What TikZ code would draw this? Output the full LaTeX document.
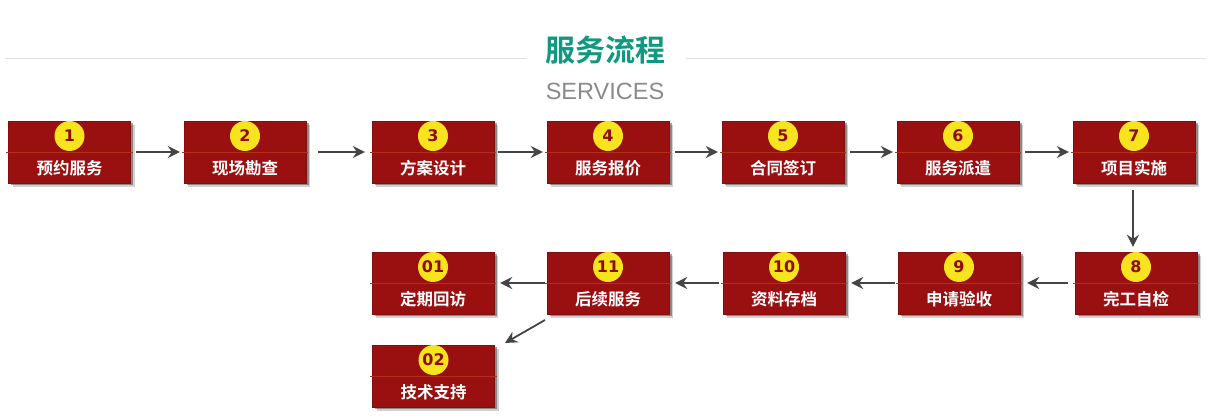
\documentclass[tikz,border=0pt]{standalone}
\usepackage{fontspec}
\setmainfont{Liberation Sans}
\newfontfamily\cjk{Noto Sans CJK SC}[BoldFont={* Bold}]
\newfontfamily\numfont{DejaVu Sans}[BoldFont={* Bold}]
\usetikzlibrary{arrows.meta,shadows}
\definecolor{boxred}{HTML}{9A1010}
\definecolor{midred}{HTML}{B0301A}
\definecolor{numyel}{HTML}{F7E41E}
\definecolor{numred}{HTML}{8E0C0C}
\definecolor{titgreen}{HTML}{109880}
\definecolor{subgray}{HTML}{8A8A8A}
\definecolor{rulegray}{HTML}{E2E2E2}
\definecolor{arrgray}{HTML}{444444}
\tikzset{
  box/.style={rectangle, minimum width=122pt, minimum height=62pt, inner sep=0pt,
    fill=boxred, draw=boxred!85!black, line width=0.4pt,
    general shadow={shadow xshift=4pt, shadow yshift=-4pt, opacity=0.18, fill=black, shadow scale=1.0},
    drop shadow={shadow xshift=2.5pt, shadow yshift=-2.5pt, opacity=0.45, fill=black!80}},
  midl/.style={draw=midred, line width=0.6pt},
  numc/.style={circle, fill=numyel, minimum size=30pt, inner sep=0pt,
    text=numred, font=\numfont\bfseries\fontsize{16}{16}\selectfont},
  lbl/.style={text=white, font=\cjk\bfseries\fontsize{16.5}{16.5}\selectfont, inner sep=0pt},
  arr/.style={draw=arrgray, line width=1.8pt, -{Stealth[length=12pt,width=12pt,inset=4pt]}},
}
\newcommand\flowbox[5]{%
  \node[box] (#1) at (#2,#3) {};
  \draw[midl] ([xshift=-2pt]#1.west) -- ([xshift=2pt]#1.east);
  \node[numc] (#1n) at ([yshift=16pt]#1.center) {#4};
  \node[lbl] (#1t) at ([yshift=-16pt]#1.center) {#5};
}
\begin{document}
\begin{tikzpicture}[x=1pt,y=-1pt]
\useasboundingbox[fill=white] (0,0) rectangle (1216,419);
% title
\node[font=\cjk\bfseries\fontsize{30}{30}\selectfont, text=titgreen, inner sep=0pt] (title) at (605,50) {服务流程};
\node[font=\fontsize{23.5}{23.5}\selectfont, text=subgray, inner sep=0pt] (sub) at (605,91) {SERVICES};
\coordinate (rl1) at (5,58);
\coordinate (rl2) at (527,58);
\coordinate (rr1) at (686,58);
\coordinate (rr2) at (1206,58);
\draw[rulegray, line width=0.8pt] (rl1) -- (rl2) (rr1) -- (rr2);
% row 1
\flowbox{b1}{69.5}{152}{1}{预约服务}
\flowbox{b2}{245}{152}{2}{现场勘查}
\flowbox{b3}{433}{152}{3}{方案设计}
\flowbox{b4}{608}{152}{4}{服务报价}
\flowbox{b5}{783}{152}{5}{合同签订}
\flowbox{b6}{958}{152}{6}{服务派遣}
\flowbox{b7}{1134}{152}{7}{项目实施}
% row 2
\flowbox{b8}{1136}{283}{8}{完工自检}
\flowbox{b9}{959}{283}{9}{申请验收}
\flowbox{b10}{784}{283}{10}{资料存档}
\flowbox{b11}{608}{283}{11}{后续服务}
\flowbox{b01}{433}{283}{01}{定期回访}
\flowbox{b02}{433.5}{376}{02}{技术支持}
% arrows
\draw[arr, shorten <=5pt, shorten >=4pt] (b1.east) -- (b2.west);
\draw[arr, shorten <=12pt, shorten >=7pt] (b2.east) -- (b3.west);
\draw[arr, shorten <=4pt, shorten >=4pt] (b3.east) -- (b4.west);
\draw[arr, shorten <=6pt, shorten >=4pt] (b4.east) -- (b5.west);
\draw[arr, shorten <=6pt, shorten >=4pt] (b5.east) -- (b6.west);
\draw[arr, shorten <=6pt, shorten >=4pt] (b6.east) -- (b7.west);
\draw[arr, shorten <=7pt, shorten >=5pt] ([xshift=-1pt]b7.south) -- ([xshift=-3pt]b8.north);
\draw[arr, shorten <=7pt, shorten >=7pt] (b8.west) -- (b9.east);
\draw[arr, shorten <=3pt, shorten >=6pt] (b9.west) -- (b10.east);
\draw[arr, shorten <=4pt, shorten >=6pt] (b10.west) -- (b11.east);
\draw[arr, shorten <=2pt, shorten >=6pt] (b11.west) -- (b01.east);
\coordinate (d1) at (545,320);
\coordinate (d2) at (505,343);
\draw[arr] (d1) -- (d2);
\end{tikzpicture}
\end{document}
